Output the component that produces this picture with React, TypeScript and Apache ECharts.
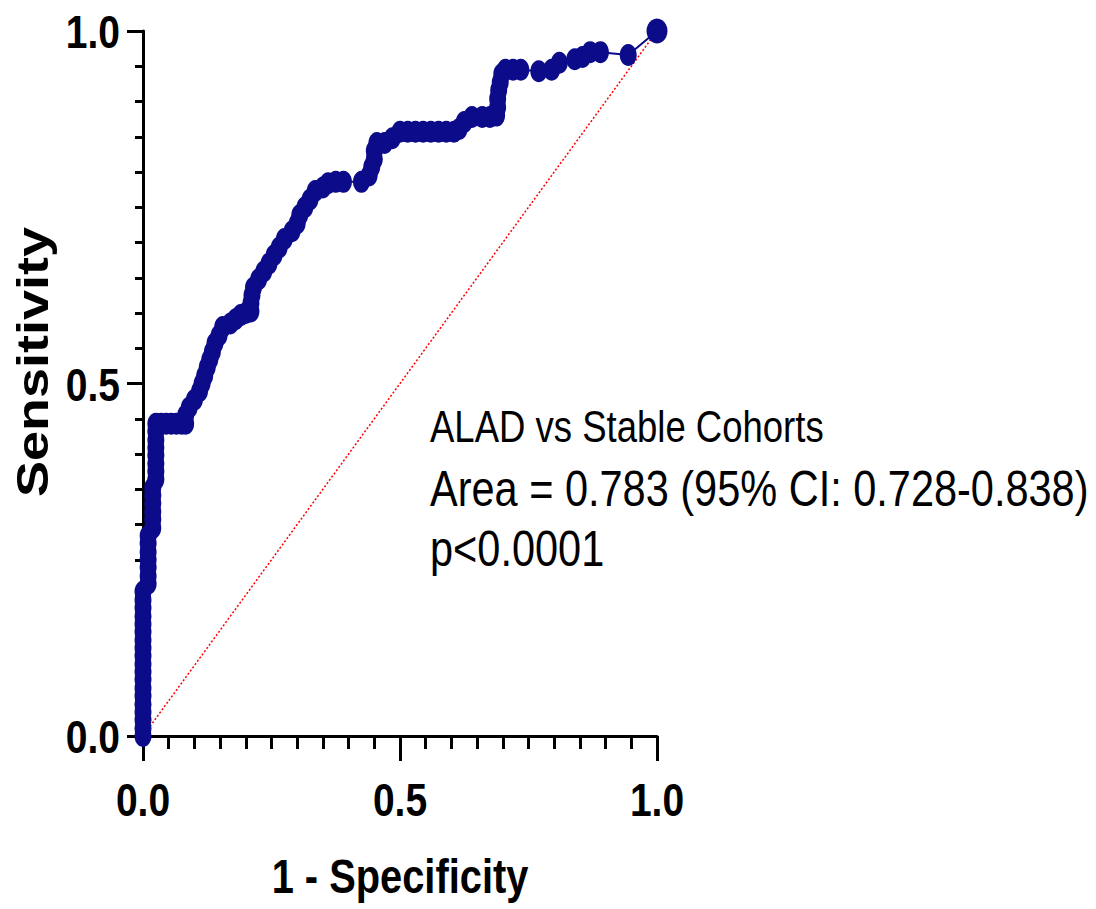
import React, { useEffect, useRef } from "react";
import * as echarts from "echarts";

// ROC curve points (1 - specificity, sensitivity)
const fpr = [
  0, 0, 0, 0, 0, 0, 0, 0, 0, 0, 0, 0, 0, 0, 0, 0, 0, 0, 0,
  0.01, 0.01, 0.01, 0.01, 0.01, 0.01, 0.01,
  0.019, 0.019, 0.019, 0.019, 0.019, 0.019,
  0.025, 0.025, 0.025, 0.025, 0.025, 0.025, 0.025, 0.025,
  0.035, 0.045, 0.055, 0.065, 0.075, 0.083,
  0.083, 0.09, 0.1, 0.11, 0.115, 0.12, 0.125, 0.13, 0.135, 0.14, 0.148, 0.155,
  0.17, 0.18, 0.19, 0.2, 0.21, 0.21, 0.212, 0.215, 0.225, 0.235, 0.245, 0.255,
  0.265, 0.275, 0.29, 0.3, 0.305, 0.315, 0.325, 0.335, 0.35, 0.36, 0.375, 0.39,
  0.425, 0.44, 0.445, 0.45, 0.45, 0.455, 0.47, 0.485, 0.5, 0.515, 0.53, 0.545,
  0.56, 0.575, 0.59, 0.605, 0.615, 0.625, 0.64, 0.66, 0.675, 0.688, 0.69, 0.69,
  0.692, 0.695, 0.698, 0.705, 0.72, 0.735, 0.77, 0.795, 0.81, 0.84, 0.855, 0.87,
  0.89, 0.944, 1,
];
const tpr = [
  0, 0.011, 0.023, 0.034, 0.045, 0.057, 0.068, 0.08, 0.091, 0.102, 0.114, 0.125, 0.136, 0.148, 0.159, 0.17, 0.182, 0.193, 0.205,
  0.216, 0.227, 0.239, 0.25, 0.261, 0.273, 0.284,
  0.295, 0.307, 0.318, 0.33, 0.341, 0.352,
  0.364, 0.375, 0.386, 0.398, 0.409, 0.42, 0.432, 0.443,
  0.443, 0.443, 0.443, 0.443, 0.443, 0.443,
  0.455, 0.466, 0.477, 0.489, 0.5, 0.511, 0.523, 0.534, 0.545, 0.557, 0.568, 0.58,
  0.585, 0.591, 0.597, 0.6, 0.602, 0.614, 0.625, 0.636, 0.648, 0.659, 0.67, 0.682,
  0.693, 0.705, 0.716, 0.727, 0.739, 0.75, 0.761, 0.773, 0.778, 0.784, 0.786, 0.786,
  0.786, 0.795, 0.807, 0.818, 0.83, 0.841, 0.841, 0.848, 0.857, 0.857, 0.857, 0.857,
  0.857, 0.857, 0.857, 0.857, 0.861, 0.871, 0.878, 0.878, 0.878, 0.88, 0.892, 0.904,
  0.916, 0.927, 0.939, 0.945, 0.945, 0.945, 0.943, 0.945, 0.955, 0.96, 0.963, 0.97,
  0.97, 0.966, 1,
];

// Reference (chance) line
const diagX = [0, 1];
const diagY = [0, 1];

// Axis ticks
const axisMin = 0;
const axisMax = 1;
const majorInterval = 0.5;
const minorSplits = 10;
const tickValues = [0, 0.5, 1];
const tickLabels = ["0.0", "0.5", "1.0"];

const annotationLines = [
  "ALAD vs Stable Cohorts",
  "Area = 0.783 (95% CI: 0.728-0.838)",
  "p<0.0001",
];
const xTitle = "1 - Specificity";
const yTitle = "Sensitivity";

export default function App() {
  const ref = useRef<HTMLDivElement>(null);

  useEffect(() => {
    document.body.style.margin = "0";
    const chart = echarts.init(ref.current as HTMLDivElement, null, { renderer: "svg" });
    const navy = "#0c0c8a";
    const black = "#000000";
    const textFont = "'Liberation Sans', Arial, sans-serif";
    const squeeze = 0.83;

    const rocData = fpr.map((x, i) =>
      i === fpr.length - 1
        ? { value: [x, tpr[i]], symbolSize: [21, 25] }
        : [x, tpr[i]]
    );
    const diagData = diagX.map((x, i) => [x, diagY[i]]);

    const axisCommon = (tickLen: number, minorLen: number) => ({
      type: "value",
      min: axisMin,
      max: axisMax,
      interval: majorInterval,
      axisLine: { show: true, onZero: false, lineStyle: { color: black, width: 3 } },
      axisTick: { show: true, length: tickLen, lineStyle: { color: black, width: 3 } },
      minorTick: { show: true, splitNumber: minorSplits, length: minorLen, lineStyle: { color: black, width: 3 } },
      splitLine: { show: false },
      minorSplitLine: { show: false },
      axisLabel: { show: false },
    });

    chart.setOption({
      animation: false,
      backgroundColor: "#ffffff",
      grid: { left: 143, right: 439, top: 31, bottom: 173, containLabel: false },
      xAxis: axisCommon(25, 13),
      yAxis: axisCommon(16, 8),
      series: [
        {
          type: "line",
          data: diagData,
          symbol: "none",
          z: 1,
          lineStyle: { color: "#ff0000", width: 1.5, type: [2, 2] },
          silent: true,
        },
        {
          type: "line",
          data: rocData,
          symbol: "circle",
          symbolSize: [17, 22],
          showSymbol: true,
          z: 3,
          itemStyle: { color: navy, borderWidth: 0 },
          lineStyle: { color: navy, width: 2 },
          silent: true,
        },
      ],
    });

    const textEl = (
      text: string,
      x: number,
      y: number,
      size: number,
      weight: string,
      align: string,
      extra: Record<string, unknown> = {}
    ) => ({
      type: "text",
      x,
      y,
      scaleX: squeeze,
      ...extra,
      style: {
        text,
        fill: black,
        fontSize: size,
        fontWeight: weight,
        fontFamily: textFont,
        align,
        verticalAlign: "middle",
        textAlign: align,
        textVerticalAlign: "middle",
      },
    });

    // Tick labels placed through the axes' own scales
    const xTickEls = tickValues.map((v, i) => {
      const p = chart.convertToPixel({ gridIndex: 0 }, [v, axisMin]) as number[];
      return textEl(tickLabels[i], p[0], p[1] + 64, 47, "bold", "center");
    });
    const yTickEls = tickValues.map((v, i) => {
      const p = chart.convertToPixel({ gridIndex: 0 }, [axisMin, v]) as number[];
      return textEl(tickLabels[i], p[0] - 23, p[1] + 1, 47, "bold", "right");
    });

    chart.setOption({
      graphic: [
        ...xTickEls,
        ...yTickEls,
        textEl(annotationLines[0], 430, 427, 44, "normal", "left"),
        textEl(annotationLines[1], 430, 489, 50, "normal", "left"),
        textEl(annotationLines[2], 430, 549, 50, "normal", "left"),
        textEl(xTitle, 400, 876, 48, "bold", "center"),
        {
          type: "text",
          x: 33,
          y: 362,
          rotation: Math.PI / 2,
          scaleY: squeeze,
          style: {
            text: yTitle,
            fill: black,
            fontSize: 54,
            fontWeight: "bold",
            fontFamily: textFont,
            align: "center",
            verticalAlign: "middle",
            textAlign: "center",
            textVerticalAlign: "middle",
          },
        },
      ],
    });

    return () => chart.dispose();
  }, []);

  return <div ref={ref} style={{ width: 1096, height: 909 }} />;
}
